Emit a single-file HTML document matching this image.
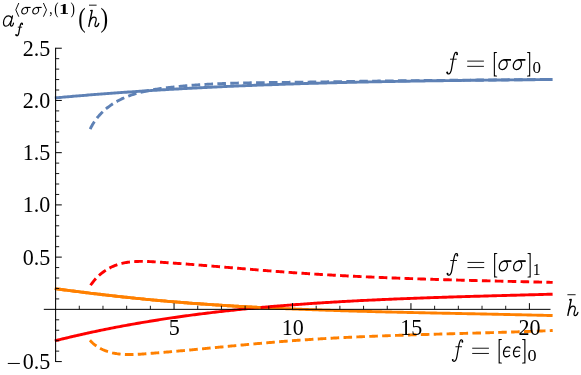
<!DOCTYPE html>
<html><head><meta charset="utf-8"><title>plot</title>
<style>
html,body{margin:0;padding:0;background:#fff;}
svg{display:block;}
text{font-family:"Liberation Serif",serif;fill:#000;}
</style></head>
<body>
<svg width="581" height="375" viewBox="0 0 581 375">
<rect width="581" height="375" fill="#fff"/>
<g style="filter:opacity(1)">
<path d="M54.80,97.93 L56.46,97.78 L58.13,97.63 L59.79,97.48 L61.46,97.33 L63.12,97.18 L64.79,97.03 L66.45,96.89 L68.12,96.74 L69.78,96.60 L71.45,96.45 L73.11,96.31 L74.78,96.17 L76.44,96.03 L78.11,95.89 L79.77,95.75 L81.44,95.61 L83.10,95.47 L84.77,95.34 L86.43,95.20 L88.10,95.07 L89.76,94.93 L91.43,94.80 L93.09,94.67 L94.76,94.53 L96.42,94.40 L98.09,94.27 L99.75,94.14 L101.42,94.02 L103.08,93.89 L104.75,93.76 L106.41,93.63 L108.08,93.51 L109.74,93.39 L111.41,93.26 L113.07,93.14 L114.74,93.02 L116.40,92.90 L118.07,92.78 L119.73,92.66 L121.40,92.54 L123.06,92.42 L124.73,92.30 L126.39,92.19 L128.05,92.07 L129.72,91.95 L131.38,91.84 L133.05,91.73 L134.71,91.61 L136.38,91.50 L138.04,91.39 L139.71,91.28 L141.37,91.17 L143.04,91.06 L144.70,90.95 L146.37,90.85 L148.03,90.74 L149.70,90.63 L151.36,90.53 L153.03,90.42 L154.69,90.32 L156.36,90.22 L158.02,90.11 L159.69,90.01 L161.35,89.91 L163.02,89.81 L164.68,89.71 L166.35,89.61 L168.01,89.52 L169.68,89.42 L171.34,89.32 L173.01,89.22 L174.67,89.13 L176.34,89.03 L178.00,88.94 L179.67,88.85 L181.33,88.75 L183.00,88.66 L184.66,88.57 L186.33,88.48 L187.99,88.39 L189.66,88.30 L191.32,88.21 L192.99,88.13 L194.65,88.04 L196.32,87.95 L197.98,87.87 L199.64,87.78 L201.31,87.69 L202.97,87.61 L204.64,87.53 L206.30,87.44 L207.97,87.36 L209.63,87.28 L211.30,87.20 L212.96,87.12 L214.63,87.04 L216.29,86.96 L217.96,86.88 L219.62,86.80 L221.29,86.73 L222.95,86.65 L224.62,86.57 L226.28,86.50 L227.95,86.42 L229.61,86.35 L231.28,86.28 L232.94,86.20 L234.61,86.13 L236.27,86.06 L237.94,85.99 L239.60,85.92 L241.27,85.85 L242.93,85.78 L244.60,85.71 L246.26,85.64 L247.93,85.57 L249.59,85.50 L251.26,85.44 L252.92,85.37 L254.59,85.30 L256.25,85.24 L257.92,85.17 L259.58,85.11 L261.25,85.05 L262.91,84.98 L264.58,84.92 L266.24,84.86 L267.91,84.80 L269.57,84.74 L271.23,84.68 L272.90,84.62 L274.56,84.56 L276.23,84.50 L277.89,84.44 L279.56,84.38 L281.22,84.32 L282.89,84.27 L284.55,84.21 L286.22,84.15 L287.88,84.10 L289.55,84.04 L291.21,83.99 L292.88,83.94 L294.54,83.88 L296.21,83.83 L297.87,83.78 L299.54,83.72 L301.20,83.67 L302.87,83.62 L304.53,83.57 L306.20,83.52 L307.86,83.47 L309.53,83.42 L311.19,83.37 L312.86,83.32 L314.52,83.28 L316.19,83.23 L317.85,83.18 L319.52,83.13 L321.18,83.09 L322.85,83.04 L324.51,83.00 L326.18,82.95 L327.84,82.91 L329.51,82.86 L331.17,82.82 L332.84,82.78 L334.50,82.73 L336.17,82.69 L337.83,82.65 L339.49,82.61 L341.16,82.57 L342.82,82.52 L344.49,82.48 L346.15,82.44 L347.82,82.40 L349.48,82.36 L351.15,82.33 L352.81,82.29 L354.48,82.25 L356.14,82.21 L357.81,82.17 L359.47,82.14 L361.14,82.10 L362.80,82.06 L364.47,82.03 L366.13,81.99 L367.80,81.96 L369.46,81.92 L371.13,81.89 L372.79,81.85 L374.46,81.82 L376.12,81.78 L377.79,81.75 L379.45,81.72 L381.12,81.68 L382.78,81.65 L384.45,81.62 L386.11,81.59 L387.78,81.56 L389.44,81.53 L391.11,81.50 L392.77,81.46 L394.44,81.43 L396.10,81.40 L397.77,81.38 L399.43,81.35 L401.10,81.32 L402.76,81.29 L404.43,81.26 L406.09,81.23 L407.76,81.20 L409.42,81.18 L411.08,81.15 L412.75,81.12 L414.41,81.09 L416.08,81.07 L417.74,81.04 L419.41,81.02 L421.07,80.99 L422.74,80.96 L424.40,80.94 L426.07,80.91 L427.73,80.89 L429.40,80.86 L431.06,80.84 L432.73,80.82 L434.39,80.79 L436.06,80.77 L437.72,80.75 L439.39,80.72 L441.05,80.70 L442.72,80.68 L444.38,80.65 L446.05,80.63 L447.71,80.61 L449.38,80.59 L451.04,80.57 L452.71,80.54 L454.37,80.52 L456.04,80.50 L457.70,80.48 L459.37,80.46 L461.03,80.44 L462.70,80.42 L464.36,80.40 L466.03,80.38 L467.69,80.36 L469.36,80.34 L471.02,80.32 L472.69,80.30 L474.35,80.28 L476.02,80.26 L477.68,80.24 L479.35,80.23 L481.01,80.21 L482.67,80.19 L484.34,80.17 L486.00,80.15 L487.67,80.13 L489.33,80.12 L491.00,80.10 L492.66,80.08 L494.33,80.06 L495.99,80.05 L497.66,80.03 L499.32,80.01 L500.99,80.00 L502.65,79.98 L504.32,79.96 L505.98,79.95 L507.65,79.93 L509.31,79.91 L510.98,79.90 L512.64,79.88 L514.31,79.86 L515.97,79.85 L517.64,79.83 L519.30,79.82 L520.97,79.80 L522.63,79.78 L524.30,79.77 L525.96,79.75 L527.63,79.74 L529.29,79.72 L530.96,79.71 L532.62,79.69 L534.29,79.68 L535.95,79.66 L537.62,79.65 L539.28,79.63 L540.95,79.62 L542.61,79.60 L544.28,79.59 L545.94,79.57 L547.61,79.56 L549.27,79.54 L550.94,79.53 L552.60,79.51" fill="none" stroke="#5e81b5" stroke-width="2.9"/>
<path d="M90.18,129.08 L90.75,127.93 L91.33,126.80 L91.94,125.69 L92.56,124.60 L93.21,123.53 L93.87,122.48 L94.55,121.45 L95.25,120.44 L95.97,119.44 L96.71,118.47 L97.46,117.52 L98.23,116.58 L99.02,115.66 L99.82,114.77 L100.64,113.89 L101.47,113.03 L102.32,112.18 L103.18,111.36 L104.06,110.55 L104.95,109.76 L105.85,108.99 L106.77,108.24 L107.69,107.50 L108.63,106.78 L109.58,106.08 L110.54,105.39 L111.52,104.72 L112.50,104.07 L113.49,103.44 L114.49,102.82 L115.50,102.21 L116.52,101.63 L117.55,101.06 L118.58,100.50 L119.62,99.96 L120.67,99.44 L121.73,98.93 L122.79,98.43 L123.86,97.95 L124.94,97.49 L126.02,97.04 L127.11,96.60 L128.20,96.18 L129.30,95.76 L130.41,95.37 L131.52,94.98 L132.63,94.61 L133.75,94.25 L134.88,93.90 L136.01,93.56 L137.15,93.23 L138.29,92.91 L139.43,92.61 L140.58,92.31 L141.73,92.02 L142.89,91.75 L144.05,91.48 L145.21,91.22 L146.38,90.97 L147.55,90.73 L148.72,90.50 L149.90,90.27 L151.07,90.05 L152.26,89.84 L153.44,89.64 L154.62,89.44 L155.81,89.25 L157.00,89.07 L158.19,88.89 L159.38,88.71 L160.58,88.55 L161.77,88.38 L162.97,88.23 L164.16,88.07 L165.36,87.92 L166.56,87.77 L167.76,87.63 L168.96,87.49 L170.16,87.36 L171.36,87.22 L172.55,87.09 L173.75,86.96 L174.95,86.84 L176.15,86.71 L177.35,86.59 L178.55,86.47 L179.74,86.36 L180.94,86.24 L182.14,86.13 L183.34,86.02 L184.54,85.91 L185.74,85.81 L186.93,85.71 L188.13,85.61 L189.33,85.51 L190.53,85.41 L191.72,85.32 L192.92,85.23 L194.12,85.14 L195.32,85.05 L196.51,84.97 L197.71,84.89 L198.91,84.81 L200.11,84.73 L201.30,84.65 L202.50,84.57 L203.70,84.50 L204.89,84.43 L206.09,84.36 L207.29,84.29 L208.49,84.23 L209.68,84.16 L210.88,84.10 L212.08,84.04 L213.27,83.98 L214.47,83.92 L215.67,83.87 L216.86,83.81 L218.06,83.76 L219.26,83.71 L220.45,83.66 L221.65,83.61 L222.84,83.56 L224.04,83.52 L225.24,83.47 L226.43,83.43 L227.63,83.39 L228.82,83.35 L230.02,83.31 L231.22,83.27 L232.41,83.23 L233.61,83.20 L234.80,83.16 L236.00,83.13 L237.20,83.10 L238.39,83.07 L239.59,83.04 L240.78,83.01 L241.98,82.98 L243.17,82.95 L244.37,82.92 L245.56,82.90 L246.76,82.87 L247.96,82.85 L249.15,82.83 L250.35,82.81 L251.54,82.78 L252.74,82.76 L253.93,82.74 L255.13,82.72 L256.32,82.70 L257.52,82.69 L258.71,82.67 L259.91,82.65 L261.10,82.64 L262.30,82.62 L263.49,82.60 L264.69,82.59 L265.88,82.57 L267.08,82.56 L268.27,82.54 L269.46,82.53 L270.66,82.52 L271.85,82.50 L273.05,82.49 L274.24,82.48 L275.44,82.46 L276.63,82.45 L277.83,82.44 L279.02,82.43 L280.22,82.41 L281.41,82.40 L282.60,82.39 L283.80,82.38 L284.99,82.37 L286.19,82.35 L287.38,82.34 L288.58,82.33 L289.77,82.31 L290.96,82.30 L292.16,82.29 L293.35,82.27 L294.55,82.26 L295.74,82.25 L296.93,82.23 L298.13,82.22 L299.32,82.20 L300.52,82.19 L301.71,82.17 L302.90,82.16 L304.10,82.14 L305.29,82.13 L306.49,82.11 L307.68,82.10 L308.87,82.08 L310.07,82.06 L311.26,82.05 L312.46,82.03 L313.65,82.02 L314.84,82.00 L316.04,81.98 L317.23,81.97 L318.42,81.95 L319.62,81.93 L320.81,81.91 L322.01,81.90 L323.20,81.88 L324.39,81.86 L325.59,81.84 L326.78,81.83 L327.97,81.81 L329.17,81.79 L330.36,81.77 L331.55,81.76 L332.75,81.74 L333.94,81.72 L335.14,81.70 L336.33,81.68 L337.52,81.67 L338.72,81.65 L339.91,81.63 L341.10,81.61 L342.30,81.59 L343.49,81.58 L344.68,81.56 L345.88,81.54 L347.07,81.52 L348.26,81.50 L349.46,81.48 L350.65,81.47 L351.85,81.45 L353.04,81.43 L354.23,81.41 L355.43,81.39 L356.62,81.38 L357.81,81.36 L359.01,81.34 L360.20,81.32 L361.39,81.30 L362.59,81.29 L363.78,81.27 L364.97,81.25 L366.17,81.23 L367.36,81.21 L368.55,81.20 L369.75,81.18 L370.94,81.16 L372.13,81.15 L373.33,81.13 L374.52,81.11 L375.72,81.09 L376.91,81.08 L378.10,81.06 L379.30,81.04 L380.49,81.03 L381.68,81.01 L382.88,80.99 L384.07,80.98 L385.26,80.96 L386.46,80.95 L387.65,80.93 L388.84,80.92 L390.04,80.90 L391.23,80.89 L392.43,80.87 L393.62,80.86 L394.81,80.84 L396.01,80.83 L397.20,80.81 L398.39,80.80 L399.59,80.78 L400.78,80.77 L401.98,80.76 L403.17,80.74 L404.36,80.73 L405.56,80.72 L406.75,80.70 L407.94,80.69 L409.14,80.68 L410.33,80.66 L411.53,80.65 L412.72,80.64 L413.91,80.63 L415.11,80.61 L416.30,80.60 L417.50,80.59 L418.69,80.58 L419.88,80.56 L421.08,80.55 L422.27,80.54 L423.47,80.53 L424.66,80.52 L425.85,80.51 L427.05,80.50 L428.24,80.48 L429.44,80.47 L430.63,80.46 L431.83,80.45 L433.02,80.44 L434.21,80.43 L435.41,80.42 L436.60,80.41 L437.80,80.40 L438.99,80.39 L440.19,80.38 L441.38,80.37 L442.58,80.36 L443.77,80.35 L444.96,80.34 L446.16,80.33 L447.35,80.32 L448.55,80.31 L449.74,80.30 L450.94,80.29 L452.13,80.28 L453.33,80.27 L454.52,80.26 L455.72,80.25 L456.91,80.24 L458.11,80.23 L459.30,80.22 L460.50,80.21 L461.69,80.20 L462.89,80.19 L464.08,80.18 L465.28,80.17 L466.47,80.16 L467.67,80.15 L468.86,80.14 L470.06,80.13 L471.25,80.12 L472.45,80.11 L473.64,80.10 L474.84,80.09 L476.04,80.08 L477.23,80.07 L478.43,80.07 L479.62,80.06 L480.82,80.05 L482.01,80.04 L483.21,80.03 L484.41,80.02 L485.60,80.01 L486.80,80.00 L487.99,79.99 L489.19,79.98 L490.39,79.97 L491.58,79.96 L492.78,79.95 L493.97,79.94 L495.17,79.93 L496.37,79.92 L497.56,79.91 L498.76,79.90 L499.96,79.89 L501.15,79.88 L502.35,79.87 L503.55,79.86 L504.74,79.85 L505.94,79.84 L507.14,79.83 L508.33,79.82 L509.53,79.81 L510.73,79.80 L511.92,79.79 L513.12,79.78 L514.32,79.77 L515.51,79.76 L516.71,79.75 L517.91,79.74 L519.11,79.73 L520.30,79.71 L521.50,79.70 L522.70,79.69 L523.90,79.68 L525.09,79.67 L526.29,79.66 L527.49,79.65 L528.69,79.63 L529.88,79.62 L531.08,79.61 L532.28,79.60 L533.48,79.59 L534.68,79.57 L535.87,79.56 L537.07,79.55 L538.27,79.54 L539.47,79.52 L540.67,79.51 L541.87,79.50 L543.06,79.48 L544.26,79.47 L545.46,79.46 L546.66,79.44 L547.86,79.43 L549.06,79.42 L550.26,79.40 L551.46,79.39 L552.66,79.37" fill="none" stroke="#5e81b5" stroke-width="2.9" stroke-dasharray="8.6 4.3"/>
<path d="M54.80,288.63 L56.46,288.85 L58.13,289.07 L59.79,289.29 L61.46,289.51 L63.12,289.73 L64.79,289.95 L66.45,290.17 L68.12,290.39 L69.78,290.60 L71.45,290.82 L73.11,291.03 L74.78,291.24 L76.44,291.46 L78.11,291.67 L79.77,291.88 L81.44,292.09 L83.10,292.29 L84.77,292.50 L86.43,292.71 L88.10,292.91 L89.76,293.12 L91.43,293.32 L93.09,293.52 L94.76,293.72 L96.42,293.92 L98.09,294.12 L99.75,294.31 L101.42,294.51 L103.08,294.71 L104.75,294.90 L106.41,295.09 L108.08,295.28 L109.74,295.47 L111.41,295.66 L113.07,295.85 L114.74,296.04 L116.40,296.22 L118.07,296.40 L119.73,296.59 L121.40,296.77 L123.06,296.95 L124.73,297.13 L126.39,297.31 L128.05,297.48 L129.72,297.66 L131.38,297.83 L133.05,298.00 L134.71,298.18 L136.38,298.35 L138.04,298.51 L139.71,298.68 L141.37,298.85 L143.04,299.01 L144.70,299.18 L146.37,299.34 L148.03,299.50 L149.70,299.66 L151.36,299.82 L153.03,299.97 L154.69,300.13 L156.36,300.28 L158.02,300.44 L159.69,300.59 L161.35,300.74 L163.02,300.88 L164.68,301.03 L166.35,301.18 L168.01,301.32 L169.68,301.46 L171.34,301.61 L173.01,301.75 L174.67,301.89 L176.34,302.02 L178.00,302.16 L179.67,302.29 L181.33,302.43 L183.00,302.56 L184.66,302.69 L186.33,302.82 L187.99,302.95 L189.66,303.08 L191.32,303.20 L192.99,303.33 L194.65,303.45 L196.32,303.57 L197.98,303.70 L199.64,303.82 L201.31,303.94 L202.97,304.05 L204.64,304.17 L206.30,304.29 L207.97,304.40 L209.63,304.51 L211.30,304.63 L212.96,304.74 L214.63,304.85 L216.29,304.96 L217.96,305.06 L219.62,305.17 L221.29,305.28 L222.95,305.38 L224.62,305.48 L226.28,305.59 L227.95,305.69 L229.61,305.79 L231.28,305.89 L232.94,305.99 L234.61,306.08 L236.27,306.18 L237.94,306.28 L239.60,306.37 L241.27,306.47 L242.93,306.56 L244.60,306.65 L246.26,306.74 L247.93,306.83 L249.59,306.92 L251.26,307.01 L252.92,307.10 L254.59,307.18 L256.25,307.27 L257.92,307.35 L259.58,307.44 L261.25,307.52 L262.91,307.60 L264.58,307.69 L266.24,307.77 L267.91,307.85 L269.57,307.93 L271.23,308.00 L272.90,308.08 L274.56,308.16 L276.23,308.24 L277.89,308.31 L279.56,308.39 L281.22,308.46 L282.89,308.53 L284.55,308.61 L286.22,308.68 L287.88,308.75 L289.55,308.82 L291.21,308.89 L292.88,308.96 L294.54,309.03 L296.21,309.09 L297.87,309.16 L299.54,309.23 L301.20,309.29 L302.87,309.36 L304.53,309.42 L306.20,309.49 L307.86,309.55 L309.53,309.61 L311.19,309.67 L312.86,309.73 L314.52,309.80 L316.19,309.86 L317.85,309.91 L319.52,309.97 L321.18,310.03 L322.85,310.09 L324.51,310.15 L326.18,310.20 L327.84,310.26 L329.51,310.31 L331.17,310.37 L332.84,310.42 L334.50,310.48 L336.17,310.53 L337.83,310.58 L339.49,310.64 L341.16,310.69 L342.82,310.74 L344.49,310.79 L346.15,310.84 L347.82,310.89 L349.48,310.94 L351.15,310.99 L352.81,311.04 L354.48,311.09 L356.14,311.13 L357.81,311.18 L359.47,311.23 L361.14,311.28 L362.80,311.32 L364.47,311.37 L366.13,311.41 L367.80,311.46 L369.46,311.50 L371.13,311.55 L372.79,311.59 L374.46,311.63 L376.12,311.68 L377.79,311.72 L379.45,311.76 L381.12,311.80 L382.78,311.84 L384.45,311.89 L386.11,311.93 L387.78,311.97 L389.44,312.01 L391.11,312.05 L392.77,312.09 L394.44,312.13 L396.10,312.17 L397.77,312.20 L399.43,312.24 L401.10,312.28 L402.76,312.32 L404.43,312.36 L406.09,312.40 L407.76,312.43 L409.42,312.47 L411.08,312.51 L412.75,312.54 L414.41,312.58 L416.08,312.62 L417.74,312.65 L419.41,312.69 L421.07,312.73 L422.74,312.76 L424.40,312.80 L426.07,312.83 L427.73,312.87 L429.40,312.90 L431.06,312.94 L432.73,312.97 L434.39,313.01 L436.06,313.04 L437.72,313.08 L439.39,313.11 L441.05,313.14 L442.72,313.18 L444.38,313.21 L446.05,313.25 L447.71,313.28 L449.38,313.32 L451.04,313.35 L452.71,313.38 L454.37,313.42 L456.04,313.45 L457.70,313.48 L459.37,313.52 L461.03,313.55 L462.70,313.58 L464.36,313.62 L466.03,313.65 L467.69,313.69 L469.36,313.72 L471.02,313.75 L472.69,313.79 L474.35,313.82 L476.02,313.85 L477.68,313.89 L479.35,313.92 L481.01,313.96 L482.67,313.99 L484.34,314.02 L486.00,314.06 L487.67,314.09 L489.33,314.13 L491.00,314.16 L492.66,314.20 L494.33,314.23 L495.99,314.27 L497.66,314.30 L499.32,314.34 L500.99,314.37 L502.65,314.41 L504.32,314.44 L505.98,314.48 L507.65,314.51 L509.31,314.55 L510.98,314.59 L512.64,314.62 L514.31,314.66 L515.97,314.70 L517.64,314.73 L519.30,314.77 L520.97,314.81 L522.63,314.85 L524.30,314.88 L525.96,314.92 L527.63,314.96 L529.29,315.00 L530.96,315.04 L532.62,315.08 L534.29,315.12 L535.95,315.16 L537.62,315.20 L539.28,315.24 L540.95,315.28 L542.61,315.32 L544.28,315.36 L545.94,315.40 L547.61,315.44 L549.27,315.49 L550.94,315.53 L552.60,315.57" fill="none" stroke="#ff8000" stroke-width="2.9"/>
<path d="M89.96,340.34 L90.84,341.25 L91.73,342.13 L92.64,342.97 L93.56,343.77 L94.50,344.54 L95.45,345.27 L96.42,345.97 L97.40,346.64 L98.39,347.27 L99.40,347.87 L100.42,348.43 L101.45,348.97 L102.49,349.48 L103.54,349.95 L104.60,350.40 L105.67,350.82 L106.75,351.22 L107.84,351.59 L108.94,351.93 L110.04,352.24 L111.15,352.54 L112.27,352.81 L113.39,353.05 L114.52,353.28 L115.66,353.48 L116.79,353.67 L117.93,353.83 L119.08,353.97 L120.23,354.10 L121.38,354.21 L122.53,354.30 L123.68,354.38 L124.84,354.44 L125.99,354.49 L127.15,354.52 L128.31,354.54 L129.47,354.55 L130.64,354.54 L131.80,354.53 L132.97,354.50 L134.13,354.47 L135.30,354.42 L136.47,354.37 L137.64,354.31 L138.81,354.25 L139.98,354.18 L141.15,354.10 L142.32,354.02 L143.49,353.94 L144.66,353.85 L145.83,353.76 L147.00,353.67 L148.17,353.58 L149.34,353.49 L150.51,353.40 L151.69,353.31 L152.86,353.22 L154.03,353.12 L155.20,353.03 L156.37,352.93 L157.54,352.84 L158.71,352.74 L159.88,352.64 L161.05,352.55 L162.22,352.45 L163.39,352.35 L164.56,352.25 L165.73,352.15 L166.90,352.05 L168.07,351.95 L169.24,351.85 L170.41,351.75 L171.58,351.64 L172.75,351.54 L173.92,351.44 L175.09,351.33 L176.26,351.23 L177.43,351.12 L178.60,351.02 L179.77,350.91 L180.94,350.81 L182.11,350.70 L183.28,350.59 L184.45,350.49 L185.62,350.38 L186.79,350.27 L187.96,350.16 L189.13,350.06 L190.30,349.95 L191.46,349.84 L192.63,349.73 L193.80,349.62 L194.97,349.51 L196.14,349.40 L197.31,349.29 L198.48,349.18 L199.65,349.07 L200.82,348.96 L201.99,348.84 L203.15,348.73 L204.32,348.62 L205.49,348.51 L206.66,348.40 L207.83,348.29 L209.00,348.17 L210.17,348.06 L211.33,347.95 L212.50,347.84 L213.67,347.73 L214.84,347.61 L216.01,347.50 L217.18,347.39 L218.34,347.28 L219.51,347.17 L220.68,347.05 L221.85,346.94 L223.02,346.83 L224.18,346.72 L225.35,346.60 L226.52,346.49 L227.69,346.38 L228.86,346.27 L230.02,346.16 L231.19,346.05 L232.36,345.93 L233.53,345.82 L234.69,345.71 L235.86,345.60 L237.03,345.49 L238.20,345.38 L239.37,345.27 L240.53,345.16 L241.70,345.05 L242.87,344.94 L244.04,344.83 L245.20,344.72 L246.37,344.61 L247.54,344.51 L248.71,344.40 L249.87,344.29 L251.04,344.18 L252.21,344.08 L253.37,343.97 L254.54,343.86 L255.71,343.76 L256.88,343.65 L258.04,343.55 L259.21,343.44 L260.38,343.34 L261.55,343.24 L262.71,343.13 L263.88,343.03 L265.05,342.93 L266.21,342.83 L267.38,342.73 L268.55,342.62 L269.72,342.52 L270.88,342.43 L272.05,342.33 L273.22,342.23 L274.38,342.13 L275.55,342.03 L276.72,341.94 L277.88,341.84 L279.05,341.75 L280.22,341.65 L281.38,341.56 L282.55,341.46 L283.72,341.37 L284.89,341.28 L286.05,341.19 L287.22,341.10 L288.39,341.01 L289.55,340.92 L290.72,340.83 L291.89,340.74 L293.05,340.66 L294.22,340.57 L295.39,340.49 L296.55,340.40 L297.72,340.32 L298.89,340.24 L300.05,340.15 L301.22,340.07 L302.39,339.99 L303.55,339.91 L304.72,339.83 L305.89,339.75 L307.05,339.68 L308.22,339.60 L309.39,339.52 L310.55,339.45 L311.72,339.37 L312.89,339.30 L314.05,339.22 L315.22,339.15 L316.39,339.08 L317.55,339.01 L318.72,338.94 L319.89,338.87 L321.05,338.80 L322.22,338.73 L323.39,338.66 L324.55,338.59 L325.72,338.52 L326.89,338.46 L328.06,338.39 L329.22,338.33 L330.39,338.26 L331.56,338.20 L332.72,338.13 L333.89,338.07 L335.06,338.01 L336.22,337.95 L337.39,337.88 L338.56,337.82 L339.72,337.76 L340.89,337.70 L342.06,337.64 L343.22,337.59 L344.39,337.53 L345.56,337.47 L346.72,337.41 L347.89,337.36 L349.06,337.30 L350.23,337.25 L351.39,337.19 L352.56,337.14 L353.73,337.08 L354.89,337.03 L356.06,336.98 L357.23,336.92 L358.39,336.87 L359.56,336.82 L360.73,336.77 L361.90,336.72 L363.06,336.67 L364.23,336.62 L365.40,336.57 L366.56,336.52 L367.73,336.47 L368.90,336.42 L370.07,336.37 L371.23,336.33 L372.40,336.28 L373.57,336.23 L374.73,336.19 L375.90,336.14 L377.07,336.10 L378.24,336.05 L379.40,336.01 L380.57,335.96 L381.74,335.92 L382.91,335.87 L384.07,335.83 L385.24,335.79 L386.41,335.75 L387.58,335.70 L388.74,335.66 L389.91,335.62 L391.08,335.58 L392.25,335.54 L393.41,335.50 L394.58,335.46 L395.75,335.42 L396.92,335.38 L398.09,335.34 L399.25,335.30 L400.42,335.26 L401.59,335.22 L402.76,335.18 L403.93,335.14 L405.09,335.11 L406.26,335.07 L407.43,335.03 L408.60,334.99 L409.77,334.96 L410.93,334.92 L412.10,334.88 L413.27,334.85 L414.44,334.81 L415.61,334.78 L416.78,334.74 L417.94,334.71 L419.11,334.67 L420.28,334.63 L421.45,334.60 L422.62,334.57 L423.79,334.53 L424.96,334.50 L426.12,334.46 L427.29,334.43 L428.46,334.39 L429.63,334.36 L430.80,334.33 L431.97,334.29 L433.14,334.26 L434.31,334.23 L435.48,334.19 L436.65,334.16 L437.81,334.13 L438.98,334.09 L440.15,334.06 L441.32,334.03 L442.49,334.00 L443.66,333.96 L444.83,333.93 L446.00,333.90 L447.17,333.87 L448.34,333.83 L449.51,333.80 L450.68,333.77 L451.85,333.74 L453.02,333.70 L454.19,333.67 L455.36,333.64 L456.53,333.61 L457.70,333.58 L458.87,333.54 L460.04,333.51 L461.21,333.48 L462.38,333.45 L463.55,333.42 L464.72,333.38 L465.89,333.35 L467.06,333.32 L468.23,333.29 L469.40,333.25 L470.57,333.22 L471.74,333.19 L472.91,333.16 L474.08,333.12 L475.26,333.09 L476.43,333.06 L477.60,333.03 L478.77,332.99 L479.94,332.96 L481.11,332.93 L482.28,332.89 L483.45,332.86 L484.62,332.83 L485.80,332.79 L486.97,332.76 L488.14,332.73 L489.31,332.69 L490.48,332.66 L491.65,332.63 L492.83,332.59 L494.00,332.56 L495.17,332.52 L496.34,332.49 L497.51,332.45 L498.69,332.42 L499.86,332.38 L501.03,332.35 L502.20,332.31 L503.38,332.27 L504.55,332.24 L505.72,332.20 L506.89,332.17 L508.07,332.13 L509.24,332.09 L510.41,332.06 L511.58,332.02 L512.76,331.98 L513.93,331.94 L515.10,331.90 L516.28,331.87 L517.45,331.83 L518.62,331.79 L519.80,331.75 L520.97,331.71 L522.14,331.67 L523.32,331.63 L524.49,331.59 L525.67,331.55 L526.84,331.51 L528.01,331.47 L529.19,331.42 L530.36,331.38 L531.54,331.34 L532.71,331.30 L533.89,331.25 L535.06,331.21 L536.24,331.17 L537.41,331.12 L538.58,331.08 L539.76,331.03 L540.93,330.99 L542.11,330.94 L543.28,330.90 L544.46,330.85 L545.63,330.80 L546.81,330.76 L547.99,330.71 L549.16,330.66 L550.34,330.61 L551.51,330.57 L552.69,330.52" fill="none" stroke="#ff8000" stroke-width="2.9" stroke-dasharray="8.6 4.3"/>
<path d="M54.80,340.84 L56.46,340.42 L58.13,340.01 L59.79,339.59 L61.46,339.18 L63.12,338.78 L64.79,338.37 L66.45,337.97 L68.12,337.57 L69.78,337.18 L71.45,336.78 L73.11,336.39 L74.78,336.01 L76.44,335.62 L78.11,335.24 L79.77,334.86 L81.44,334.48 L83.10,334.11 L84.77,333.74 L86.43,333.37 L88.10,333.01 L89.76,332.64 L91.43,332.28 L93.09,331.93 L94.76,331.57 L96.42,331.22 L98.09,330.87 L99.75,330.52 L101.42,330.18 L103.08,329.84 L104.75,329.50 L106.41,329.16 L108.08,328.83 L109.74,328.50 L111.41,328.17 L113.07,327.84 L114.74,327.52 L116.40,327.20 L118.07,326.88 L119.73,326.56 L121.40,326.25 L123.06,325.94 L124.73,325.63 L126.39,325.32 L128.05,325.02 L129.72,324.72 L131.38,324.42 L133.05,324.12 L134.71,323.83 L136.38,323.54 L138.04,323.25 L139.71,322.96 L141.37,322.67 L143.04,322.39 L144.70,322.11 L146.37,321.83 L148.03,321.56 L149.70,321.28 L151.36,321.01 L153.03,320.74 L154.69,320.48 L156.36,320.21 L158.02,319.95 L159.69,319.69 L161.35,319.43 L163.02,319.17 L164.68,318.92 L166.35,318.67 L168.01,318.42 L169.68,318.17 L171.34,317.93 L173.01,317.68 L174.67,317.44 L176.34,317.20 L178.00,316.97 L179.67,316.73 L181.33,316.50 L183.00,316.27 L184.66,316.04 L186.33,315.81 L187.99,315.58 L189.66,315.36 L191.32,315.14 L192.99,314.92 L194.65,314.70 L196.32,314.49 L197.98,314.27 L199.64,314.06 L201.31,313.85 L202.97,313.64 L204.64,313.44 L206.30,313.23 L207.97,313.03 L209.63,312.83 L211.30,312.63 L212.96,312.43 L214.63,312.24 L216.29,312.05 L217.96,311.85 L219.62,311.66 L221.29,311.48 L222.95,311.29 L224.62,311.10 L226.28,310.92 L227.95,310.74 L229.61,310.56 L231.28,310.38 L232.94,310.20 L234.61,310.03 L236.27,309.85 L237.94,309.68 L239.60,309.51 L241.27,309.34 L242.93,309.18 L244.60,309.01 L246.26,308.85 L247.93,308.68 L249.59,308.52 L251.26,308.36 L252.92,308.20 L254.59,308.05 L256.25,307.89 L257.92,307.74 L259.58,307.59 L261.25,307.44 L262.91,307.29 L264.58,307.14 L266.24,306.99 L267.91,306.85 L269.57,306.70 L271.23,306.56 L272.90,306.42 L274.56,306.28 L276.23,306.14 L277.89,306.00 L279.56,305.87 L281.22,305.73 L282.89,305.60 L284.55,305.46 L286.22,305.33 L287.88,305.20 L289.55,305.08 L291.21,304.95 L292.88,304.82 L294.54,304.70 L296.21,304.57 L297.87,304.45 L299.54,304.33 L301.20,304.21 L302.87,304.09 L304.53,303.97 L306.20,303.85 L307.86,303.74 L309.53,303.62 L311.19,303.51 L312.86,303.40 L314.52,303.29 L316.19,303.18 L317.85,303.07 L319.52,302.96 L321.18,302.85 L322.85,302.74 L324.51,302.64 L326.18,302.54 L327.84,302.43 L329.51,302.33 L331.17,302.23 L332.84,302.13 L334.50,302.03 L336.17,301.93 L337.83,301.84 L339.49,301.74 L341.16,301.64 L342.82,301.55 L344.49,301.46 L346.15,301.37 L347.82,301.27 L349.48,301.18 L351.15,301.09 L352.81,301.00 L354.48,300.92 L356.14,300.83 L357.81,300.74 L359.47,300.66 L361.14,300.57 L362.80,300.49 L364.47,300.41 L366.13,300.33 L367.80,300.24 L369.46,300.16 L371.13,300.08 L372.79,300.01 L374.46,299.93 L376.12,299.85 L377.79,299.77 L379.45,299.70 L381.12,299.62 L382.78,299.55 L384.45,299.48 L386.11,299.40 L387.78,299.33 L389.44,299.26 L391.11,299.19 L392.77,299.12 L394.44,299.05 L396.10,298.98 L397.77,298.91 L399.43,298.84 L401.10,298.78 L402.76,298.71 L404.43,298.65 L406.09,298.58 L407.76,298.52 L409.42,298.45 L411.08,298.39 L412.75,298.33 L414.41,298.26 L416.08,298.20 L417.74,298.14 L419.41,298.08 L421.07,298.02 L422.74,297.96 L424.40,297.90 L426.07,297.84 L427.73,297.79 L429.40,297.73 L431.06,297.67 L432.73,297.62 L434.39,297.56 L436.06,297.50 L437.72,297.45 L439.39,297.39 L441.05,297.34 L442.72,297.29 L444.38,297.23 L446.05,297.18 L447.71,297.13 L449.38,297.07 L451.04,297.02 L452.71,296.97 L454.37,296.92 L456.04,296.87 L457.70,296.82 L459.37,296.77 L461.03,296.72 L462.70,296.67 L464.36,296.62 L466.03,296.57 L467.69,296.52 L469.36,296.47 L471.02,296.42 L472.69,296.37 L474.35,296.32 L476.02,296.28 L477.68,296.23 L479.35,296.18 L481.01,296.14 L482.67,296.09 L484.34,296.04 L486.00,296.00 L487.67,295.95 L489.33,295.90 L491.00,295.86 L492.66,295.81 L494.33,295.77 L495.99,295.72 L497.66,295.67 L499.32,295.63 L500.99,295.58 L502.65,295.54 L504.32,295.49 L505.98,295.45 L507.65,295.40 L509.31,295.36 L510.98,295.31 L512.64,295.27 L514.31,295.22 L515.97,295.18 L517.64,295.13 L519.30,295.09 L520.97,295.04 L522.63,295.00 L524.30,294.95 L525.96,294.91 L527.63,294.87 L529.29,294.82 L530.96,294.77 L532.62,294.73 L534.29,294.68 L535.95,294.64 L537.62,294.59 L539.28,294.55 L540.95,294.50 L542.61,294.46 L544.28,294.41 L545.94,294.37 L547.61,294.32 L549.27,294.27 L550.94,294.23 L552.60,294.18" fill="none" stroke="#ff0000" stroke-width="2.9"/>
<path d="M90.56,285.29 L91.26,284.28 L91.98,283.28 L92.73,282.30 L93.49,281.35 L94.27,280.41 L95.06,279.50 L95.88,278.60 L96.71,277.73 L97.56,276.88 L98.43,276.05 L99.31,275.24 L100.21,274.45 L101.13,273.69 L102.05,272.95 L103.00,272.23 L103.95,271.53 L104.92,270.86 L105.91,270.21 L106.90,269.58 L107.91,268.98 L108.93,268.40 L109.96,267.84 L111.00,267.31 L112.05,266.81 L113.11,266.32 L114.18,265.87 L115.26,265.44 L116.34,265.03 L117.44,264.65 L118.54,264.29 L119.65,263.96 L120.77,263.66 L121.89,263.37 L123.02,263.11 L124.15,262.88 L125.29,262.66 L126.44,262.46 L127.59,262.28 L128.74,262.12 L129.90,261.98 L131.06,261.86 L132.23,261.75 L133.40,261.66 L134.57,261.58 L135.74,261.52 L136.92,261.47 L138.09,261.43 L139.27,261.41 L140.45,261.39 L141.63,261.39 L142.81,261.39 L143.99,261.41 L145.17,261.43 L146.35,261.46 L147.53,261.50 L148.71,261.54 L149.89,261.59 L151.07,261.64 L152.25,261.70 L153.43,261.76 L154.60,261.83 L155.78,261.90 L156.96,261.97 L158.14,262.05 L159.32,262.12 L160.50,262.20 L161.68,262.28 L162.86,262.36 L164.04,262.44 L165.22,262.52 L166.40,262.60 L167.57,262.68 L168.75,262.76 L169.93,262.84 L171.11,262.93 L172.29,263.01 L173.47,263.10 L174.65,263.18 L175.83,263.27 L177.00,263.35 L178.18,263.44 L179.36,263.53 L180.54,263.61 L181.72,263.70 L182.90,263.79 L184.07,263.88 L185.25,263.97 L186.43,264.06 L187.61,264.15 L188.79,264.24 L189.96,264.33 L191.14,264.43 L192.32,264.52 L193.50,264.61 L194.68,264.70 L195.85,264.80 L197.03,264.89 L198.21,264.98 L199.39,265.08 L200.57,265.17 L201.74,265.27 L202.92,265.36 L204.10,265.46 L205.28,265.56 L206.45,265.65 L207.63,265.75 L208.81,265.84 L209.99,265.94 L211.16,266.04 L212.34,266.14 L213.52,266.23 L214.70,266.33 L215.87,266.43 L217.05,266.53 L218.23,266.63 L219.40,266.72 L220.58,266.82 L221.76,266.92 L222.94,267.02 L224.11,267.12 L225.29,267.22 L226.47,267.32 L227.64,267.41 L228.82,267.51 L230.00,267.61 L231.17,267.71 L232.35,267.81 L233.53,267.91 L234.71,268.01 L235.88,268.11 L237.06,268.21 L238.24,268.30 L239.41,268.40 L240.59,268.50 L241.77,268.60 L242.94,268.70 L244.12,268.80 L245.30,268.90 L246.47,268.99 L247.65,269.09 L248.83,269.19 L250.00,269.29 L251.18,269.38 L252.35,269.48 L253.53,269.58 L254.71,269.68 L255.88,269.77 L257.06,269.87 L258.24,269.96 L259.41,270.06 L260.59,270.16 L261.77,270.25 L262.94,270.35 L264.12,270.44 L265.30,270.54 L266.47,270.63 L267.65,270.72 L268.82,270.82 L270.00,270.91 L271.18,271.00 L272.35,271.09 L273.53,271.19 L274.70,271.28 L275.88,271.37 L277.06,271.46 L278.23,271.55 L279.41,271.64 L280.59,271.73 L281.76,271.82 L282.94,271.91 L284.11,271.99 L285.29,272.08 L286.47,272.17 L287.64,272.25 L288.82,272.34 L289.99,272.42 L291.17,272.51 L292.35,272.59 L293.52,272.68 L294.70,272.76 L295.87,272.84 L297.05,272.92 L298.23,273.00 L299.40,273.08 L300.58,273.16 L301.75,273.24 L302.93,273.32 L304.11,273.40 L305.28,273.48 L306.46,273.55 L307.63,273.63 L308.81,273.71 L309.99,273.78 L311.16,273.86 L312.34,273.93 L313.51,274.01 L314.69,274.08 L315.86,274.15 L317.04,274.23 L318.22,274.30 L319.39,274.37 L320.57,274.44 L321.74,274.51 L322.92,274.58 L324.10,274.65 L325.27,274.72 L326.45,274.79 L327.62,274.86 L328.80,274.92 L329.98,274.99 L331.15,275.06 L332.33,275.12 L333.50,275.19 L334.68,275.25 L335.86,275.32 L337.03,275.38 L338.21,275.45 L339.38,275.51 L340.56,275.57 L341.73,275.64 L342.91,275.70 L344.09,275.76 L345.26,275.82 L346.44,275.88 L347.61,275.94 L348.79,276.00 L349.97,276.06 L351.14,276.12 L352.32,276.18 L353.49,276.24 L354.67,276.29 L355.85,276.35 L357.02,276.41 L358.20,276.46 L359.37,276.52 L360.55,276.58 L361.73,276.63 L362.90,276.69 L364.08,276.74 L365.26,276.80 L366.43,276.85 L367.61,276.90 L368.78,276.95 L369.96,277.01 L371.14,277.06 L372.31,277.11 L373.49,277.16 L374.66,277.21 L375.84,277.26 L377.02,277.31 L378.19,277.36 L379.37,277.41 L380.55,277.46 L381.72,277.51 L382.90,277.56 L384.08,277.61 L385.25,277.66 L386.43,277.70 L387.60,277.75 L388.78,277.80 L389.96,277.85 L391.13,277.89 L392.31,277.94 L393.49,277.98 L394.66,278.03 L395.84,278.07 L397.02,278.12 L398.19,278.16 L399.37,278.21 L400.55,278.25 L401.72,278.29 L402.90,278.34 L404.08,278.38 L405.25,278.42 L406.43,278.46 L407.61,278.51 L408.78,278.55 L409.96,278.59 L411.14,278.63 L412.31,278.67 L413.49,278.71 L414.67,278.75 L415.85,278.79 L417.02,278.83 L418.20,278.87 L419.38,278.91 L420.55,278.95 L421.73,278.99 L422.91,279.03 L424.09,279.06 L425.26,279.10 L426.44,279.14 L427.62,279.18 L428.79,279.21 L429.97,279.25 L431.15,279.29 L432.33,279.32 L433.50,279.36 L434.68,279.40 L435.86,279.43 L437.04,279.47 L438.21,279.50 L439.39,279.54 L440.57,279.57 L441.75,279.61 L442.92,279.64 L444.10,279.68 L445.28,279.71 L446.46,279.75 L447.64,279.78 L448.81,279.82 L449.99,279.85 L451.17,279.88 L452.35,279.92 L453.53,279.95 L454.70,279.98 L455.88,280.01 L457.06,280.05 L458.24,280.08 L459.42,280.11 L460.59,280.14 L461.77,280.18 L462.95,280.21 L464.13,280.24 L465.31,280.27 L466.49,280.30 L467.67,280.33 L468.84,280.36 L470.02,280.39 L471.20,280.43 L472.38,280.46 L473.56,280.49 L474.74,280.52 L475.92,280.55 L477.10,280.58 L478.27,280.61 L479.45,280.64 L480.63,280.67 L481.81,280.70 L482.99,280.73 L484.17,280.76 L485.35,280.79 L486.53,280.82 L487.71,280.84 L488.89,280.87 L490.07,280.90 L491.25,280.93 L492.43,280.96 L493.60,280.99 L494.78,281.02 L495.96,281.05 L497.14,281.08 L498.32,281.11 L499.50,281.13 L500.68,281.16 L501.86,281.19 L503.04,281.22 L504.22,281.25 L505.40,281.28 L506.58,281.30 L507.76,281.33 L508.94,281.36 L510.12,281.39 L511.30,281.42 L512.48,281.45 L513.66,281.47 L514.85,281.50 L516.03,281.53 L517.21,281.56 L518.39,281.59 L519.57,281.61 L520.75,281.64 L521.93,281.67 L523.11,281.70 L524.29,281.73 L525.47,281.76 L526.65,281.78 L527.83,281.81 L529.02,281.84 L530.20,281.87 L531.38,281.90 L532.56,281.92 L533.74,281.95 L534.92,281.98 L536.10,282.01 L537.29,282.04 L538.47,282.07 L539.65,282.09 L540.83,282.12 L542.01,282.15 L543.20,282.18 L544.38,282.21 L545.56,282.24 L546.74,282.27 L547.92,282.29 L549.11,282.32 L550.29,282.35 L551.47,282.38 L552.65,282.41" fill="none" stroke="#ff0000" stroke-width="2.9" stroke-dasharray="8.6 4.3"/>
<clipPath id="cl"><rect x="0" y="280" width="260.6" height="40"/></clipPath>
<path clip-path="url(#cl)" d="M54.80,288.63 L56.46,288.85 L58.13,289.07 L59.79,289.29 L61.46,289.51 L63.12,289.73 L64.79,289.95 L66.45,290.17 L68.12,290.39 L69.78,290.60 L71.45,290.82 L73.11,291.03 L74.78,291.24 L76.44,291.46 L78.11,291.67 L79.77,291.88 L81.44,292.09 L83.10,292.29 L84.77,292.50 L86.43,292.71 L88.10,292.91 L89.76,293.12 L91.43,293.32 L93.09,293.52 L94.76,293.72 L96.42,293.92 L98.09,294.12 L99.75,294.31 L101.42,294.51 L103.08,294.71 L104.75,294.90 L106.41,295.09 L108.08,295.28 L109.74,295.47 L111.41,295.66 L113.07,295.85 L114.74,296.04 L116.40,296.22 L118.07,296.40 L119.73,296.59 L121.40,296.77 L123.06,296.95 L124.73,297.13 L126.39,297.31 L128.05,297.48 L129.72,297.66 L131.38,297.83 L133.05,298.00 L134.71,298.18 L136.38,298.35 L138.04,298.51 L139.71,298.68 L141.37,298.85 L143.04,299.01 L144.70,299.18 L146.37,299.34 L148.03,299.50 L149.70,299.66 L151.36,299.82 L153.03,299.97 L154.69,300.13 L156.36,300.28 L158.02,300.44 L159.69,300.59 L161.35,300.74 L163.02,300.88 L164.68,301.03 L166.35,301.18 L168.01,301.32 L169.68,301.46 L171.34,301.61 L173.01,301.75 L174.67,301.89 L176.34,302.02 L178.00,302.16 L179.67,302.29 L181.33,302.43 L183.00,302.56 L184.66,302.69 L186.33,302.82 L187.99,302.95 L189.66,303.08 L191.32,303.20 L192.99,303.33 L194.65,303.45 L196.32,303.57 L197.98,303.70 L199.64,303.82 L201.31,303.94 L202.97,304.05 L204.64,304.17 L206.30,304.29 L207.97,304.40 L209.63,304.51 L211.30,304.63 L212.96,304.74 L214.63,304.85 L216.29,304.96 L217.96,305.06 L219.62,305.17 L221.29,305.28 L222.95,305.38 L224.62,305.48 L226.28,305.59 L227.95,305.69 L229.61,305.79 L231.28,305.89 L232.94,305.99 L234.61,306.08 L236.27,306.18 L237.94,306.28 L239.60,306.37 L241.27,306.47 L242.93,306.56 L244.60,306.65 L246.26,306.74 L247.93,306.83 L249.59,306.92 L251.26,307.01 L252.92,307.10 L254.59,307.18 L256.25,307.27 L257.92,307.35 L259.58,307.44 L261.25,307.52 L262.91,307.60 L264.58,307.69 L266.24,307.77 L267.91,307.85 L269.57,307.93 L271.23,308.00 L272.90,308.08 L274.56,308.16 L276.23,308.24 L277.89,308.31 L279.56,308.39 L281.22,308.46 L282.89,308.53 L284.55,308.61 L286.22,308.68 L287.88,308.75 L289.55,308.82 L291.21,308.89 L292.88,308.96 L294.54,309.03 L296.21,309.09 L297.87,309.16 L299.54,309.23 L301.20,309.29 L302.87,309.36 L304.53,309.42 L306.20,309.49 L307.86,309.55 L309.53,309.61 L311.19,309.67 L312.86,309.73 L314.52,309.80 L316.19,309.86 L317.85,309.91 L319.52,309.97 L321.18,310.03 L322.85,310.09 L324.51,310.15 L326.18,310.20 L327.84,310.26 L329.51,310.31 L331.17,310.37 L332.84,310.42 L334.50,310.48 L336.17,310.53 L337.83,310.58 L339.49,310.64 L341.16,310.69 L342.82,310.74 L344.49,310.79 L346.15,310.84 L347.82,310.89 L349.48,310.94 L351.15,310.99 L352.81,311.04 L354.48,311.09 L356.14,311.13 L357.81,311.18 L359.47,311.23 L361.14,311.28 L362.80,311.32 L364.47,311.37 L366.13,311.41 L367.80,311.46 L369.46,311.50 L371.13,311.55 L372.79,311.59 L374.46,311.63 L376.12,311.68 L377.79,311.72 L379.45,311.76 L381.12,311.80 L382.78,311.84 L384.45,311.89 L386.11,311.93 L387.78,311.97 L389.44,312.01 L391.11,312.05 L392.77,312.09 L394.44,312.13 L396.10,312.17 L397.77,312.20 L399.43,312.24 L401.10,312.28 L402.76,312.32 L404.43,312.36 L406.09,312.40 L407.76,312.43 L409.42,312.47 L411.08,312.51 L412.75,312.54 L414.41,312.58 L416.08,312.62 L417.74,312.65 L419.41,312.69 L421.07,312.73 L422.74,312.76 L424.40,312.80 L426.07,312.83 L427.73,312.87 L429.40,312.90 L431.06,312.94 L432.73,312.97 L434.39,313.01 L436.06,313.04 L437.72,313.08 L439.39,313.11 L441.05,313.14 L442.72,313.18 L444.38,313.21 L446.05,313.25 L447.71,313.28 L449.38,313.32 L451.04,313.35 L452.71,313.38 L454.37,313.42 L456.04,313.45 L457.70,313.48 L459.37,313.52 L461.03,313.55 L462.70,313.58 L464.36,313.62 L466.03,313.65 L467.69,313.69 L469.36,313.72 L471.02,313.75 L472.69,313.79 L474.35,313.82 L476.02,313.85 L477.68,313.89 L479.35,313.92 L481.01,313.96 L482.67,313.99 L484.34,314.02 L486.00,314.06 L487.67,314.09 L489.33,314.13 L491.00,314.16 L492.66,314.20 L494.33,314.23 L495.99,314.27 L497.66,314.30 L499.32,314.34 L500.99,314.37 L502.65,314.41 L504.32,314.44 L505.98,314.48 L507.65,314.51 L509.31,314.55 L510.98,314.59 L512.64,314.62 L514.31,314.66 L515.97,314.70 L517.64,314.73 L519.30,314.77 L520.97,314.81 L522.63,314.85 L524.30,314.88 L525.96,314.92 L527.63,314.96 L529.29,315.00 L530.96,315.04 L532.62,315.08 L534.29,315.12 L535.95,315.16 L537.62,315.20 L539.28,315.24 L540.95,315.28 L542.61,315.32 L544.28,315.36 L545.94,315.40 L547.61,315.44 L549.27,315.49 L550.94,315.53 L552.60,315.57" fill="none" stroke="#ff8000" stroke-width="2.9"/>
<line x1="43.8" y1="309.35" x2="550.5" y2="309.35" stroke="#000" stroke-width="1"/>
<line x1="55.60" y1="47.73" x2="55.60" y2="362.08" stroke="#000" stroke-width="1.05"/>
<line x1="79.29" y1="309.35" x2="79.29" y2="305.75" stroke="#000" stroke-width="0.9"/>
<line x1="102.98" y1="309.35" x2="102.98" y2="305.75" stroke="#000" stroke-width="0.9"/>
<line x1="126.67" y1="309.35" x2="126.67" y2="305.75" stroke="#000" stroke-width="0.9"/>
<line x1="150.36" y1="309.35" x2="150.36" y2="305.75" stroke="#000" stroke-width="0.9"/>
<line x1="174.05" y1="309.35" x2="174.05" y2="303.15" stroke="#000" stroke-width="1"/>
<line x1="197.74" y1="309.35" x2="197.74" y2="305.75" stroke="#000" stroke-width="0.9"/>
<line x1="221.43" y1="309.35" x2="221.43" y2="305.75" stroke="#000" stroke-width="0.9"/>
<line x1="245.12" y1="309.35" x2="245.12" y2="305.75" stroke="#000" stroke-width="0.9"/>
<line x1="268.81" y1="309.35" x2="268.81" y2="305.75" stroke="#000" stroke-width="0.9"/>
<line x1="292.50" y1="309.35" x2="292.50" y2="303.15" stroke="#000" stroke-width="1"/>
<line x1="316.19" y1="309.35" x2="316.19" y2="305.75" stroke="#000" stroke-width="0.9"/>
<line x1="339.88" y1="309.35" x2="339.88" y2="305.75" stroke="#000" stroke-width="0.9"/>
<line x1="363.57" y1="309.35" x2="363.57" y2="305.75" stroke="#000" stroke-width="0.9"/>
<line x1="387.26" y1="309.35" x2="387.26" y2="305.75" stroke="#000" stroke-width="0.9"/>
<line x1="410.95" y1="309.35" x2="410.95" y2="303.15" stroke="#000" stroke-width="1"/>
<line x1="434.64" y1="309.35" x2="434.64" y2="305.75" stroke="#000" stroke-width="0.9"/>
<line x1="458.33" y1="309.35" x2="458.33" y2="305.75" stroke="#000" stroke-width="0.9"/>
<line x1="482.02" y1="309.35" x2="482.02" y2="305.75" stroke="#000" stroke-width="0.9"/>
<line x1="505.71" y1="309.35" x2="505.71" y2="305.75" stroke="#000" stroke-width="0.9"/>
<line x1="529.40" y1="309.35" x2="529.40" y2="303.15" stroke="#000" stroke-width="1"/>
<line x1="55.60" y1="361.58" x2="61.80" y2="361.58" stroke="#000" stroke-width="1"/>
<line x1="55.60" y1="351.13" x2="59.20" y2="351.13" stroke="#000" stroke-width="0.9"/>
<line x1="55.60" y1="340.69" x2="59.20" y2="340.69" stroke="#000" stroke-width="0.9"/>
<line x1="55.60" y1="330.24" x2="59.20" y2="330.24" stroke="#000" stroke-width="0.9"/>
<line x1="55.60" y1="319.80" x2="59.20" y2="319.80" stroke="#000" stroke-width="0.9"/>
<line x1="55.60" y1="298.91" x2="59.20" y2="298.91" stroke="#000" stroke-width="0.9"/>
<line x1="55.60" y1="288.46" x2="59.20" y2="288.46" stroke="#000" stroke-width="0.9"/>
<line x1="55.60" y1="278.02" x2="59.20" y2="278.02" stroke="#000" stroke-width="0.9"/>
<line x1="55.60" y1="267.57" x2="59.20" y2="267.57" stroke="#000" stroke-width="0.9"/>
<line x1="55.60" y1="257.12" x2="61.80" y2="257.12" stroke="#000" stroke-width="1"/>
<line x1="55.60" y1="246.68" x2="59.20" y2="246.68" stroke="#000" stroke-width="0.9"/>
<line x1="55.60" y1="236.24" x2="59.20" y2="236.24" stroke="#000" stroke-width="0.9"/>
<line x1="55.60" y1="225.79" x2="59.20" y2="225.79" stroke="#000" stroke-width="0.9"/>
<line x1="55.60" y1="215.35" x2="59.20" y2="215.35" stroke="#000" stroke-width="0.9"/>
<line x1="55.60" y1="204.90" x2="61.80" y2="204.90" stroke="#000" stroke-width="1"/>
<line x1="55.60" y1="194.46" x2="59.20" y2="194.46" stroke="#000" stroke-width="0.9"/>
<line x1="55.60" y1="184.01" x2="59.20" y2="184.01" stroke="#000" stroke-width="0.9"/>
<line x1="55.60" y1="173.57" x2="59.20" y2="173.57" stroke="#000" stroke-width="0.9"/>
<line x1="55.60" y1="163.12" x2="59.20" y2="163.12" stroke="#000" stroke-width="0.9"/>
<line x1="55.60" y1="152.68" x2="61.80" y2="152.68" stroke="#000" stroke-width="1"/>
<line x1="55.60" y1="142.23" x2="59.20" y2="142.23" stroke="#000" stroke-width="0.9"/>
<line x1="55.60" y1="131.79" x2="59.20" y2="131.79" stroke="#000" stroke-width="0.9"/>
<line x1="55.60" y1="121.34" x2="59.20" y2="121.34" stroke="#000" stroke-width="0.9"/>
<line x1="55.60" y1="110.90" x2="59.20" y2="110.90" stroke="#000" stroke-width="0.9"/>
<line x1="55.60" y1="100.45" x2="61.80" y2="100.45" stroke="#000" stroke-width="1"/>
<line x1="55.60" y1="90.00" x2="59.20" y2="90.00" stroke="#000" stroke-width="0.9"/>
<line x1="55.60" y1="79.56" x2="59.20" y2="79.56" stroke="#000" stroke-width="0.9"/>
<line x1="55.60" y1="69.12" x2="59.20" y2="69.12" stroke="#000" stroke-width="0.9"/>
<line x1="55.60" y1="58.67" x2="59.20" y2="58.67" stroke="#000" stroke-width="0.9"/>
<line x1="55.60" y1="48.23" x2="61.80" y2="48.23" stroke="#000" stroke-width="1"/>
<text transform="translate(50.30,55.63) scale(0.2205,0.2340)" font-size="100" text-anchor="end">2.5</text>
<text transform="translate(50.30,107.85) scale(0.2205,0.2340)" font-size="100" text-anchor="end">2.0</text>
<text transform="translate(50.30,160.08) scale(0.2205,0.2340)" font-size="100" text-anchor="end">1.5</text>
<text transform="translate(50.30,212.30) scale(0.2205,0.2340)" font-size="100" text-anchor="end">1.0</text>
<text transform="translate(50.30,264.52) scale(0.2205,0.2340)" font-size="100" text-anchor="end">0.5</text>
<text transform="translate(50.30,368.98) scale(0.2205,0.2340)" font-size="100" text-anchor="end">0.5</text>
<text transform="translate(6.50,370.27) scale(0.2600,0.2008)" font-size="100"  fill="#000">−</text>
<text transform="translate(174.25,334.70) scale(0.2205,0.2340)" font-size="100" text-anchor="middle">5</text>
<text transform="translate(292.70,334.70) scale(0.2205,0.2340)" font-size="100" text-anchor="middle">10</text>
<text transform="translate(411.15,334.70) scale(0.2205,0.2340)" font-size="100" text-anchor="middle">15</text>
<text transform="translate(529.60,334.70) scale(0.2205,0.2340)" font-size="100" text-anchor="middle">20</text>
<g transform="translate(445.90,70.10) scale(1.0000,1.0000)"><path d="M11.25,-16.3 C11.5,-17.5 10.6,-17.95 9.9,-17.8 C8.5,-17.5 7.95,-14.6 7.3,-10.9 L5.65,-1.2 C5.1,2.0 4.3,3.75 2.75,3.75 C1.7,3.75 1.1,3.2 1.2,2.5" fill="none" stroke="#000" stroke-width="1.25" stroke-linecap="round"/><circle cx="11.15" cy="-15.9" r="0.95"/><circle cx="1.35" cy="2.3" r="0.95"/><path d="M4.1,-10.9 L10.8,-10.9" stroke="#000" stroke-width="0.9" fill="none"/></g>
<rect x="467.20" y="60.65" width="16.7" height="0.9" fill="#000"/>
<rect x="467.20" y="65.85" width="16.7" height="0.9" fill="#000"/>
<text transform="translate(492.63,71.64) scale(0.1437,0.2888)" font-size="100"  fill="#000">[</text>
<g transform="translate(498.40,70.08) scale(1.0000,1.0027)"><path d="M12.6,-10.2 L5.6,-10.2 C2.7,-10.2 0.6,-6.9 0.6,-4.0 C0.6,-1.7 1.9,-0.5 3.8,-0.5 C6.6,-0.5 8.8,-3.4 8.8,-6.4 C8.8,-8.3 8.2,-9.5 6.9,-10.15" fill="none" stroke="#000" stroke-width="1.25" stroke-linejoin="round"/><path d="M5.0,-10.25 L12.6,-10.25" stroke="#000" stroke-width="1.4" fill="none"/></g>
<g transform="translate(512.70,70.08) scale(1.0000,1.0027)"><path d="M12.6,-10.2 L5.6,-10.2 C2.7,-10.2 0.6,-6.9 0.6,-4.0 C0.6,-1.7 1.9,-0.5 3.8,-0.5 C6.6,-0.5 8.8,-3.4 8.8,-6.4 C8.8,-8.3 8.2,-9.5 6.9,-10.15" fill="none" stroke="#000" stroke-width="1.25" stroke-linejoin="round"/><path d="M5.0,-10.25 L12.6,-10.25" stroke="#000" stroke-width="1.4" fill="none"/></g>
<text transform="translate(526.58,71.64) scale(0.1437,0.2888)" font-size="100"  fill="#000">]</text>
<text transform="translate(532.55,73.34) scale(0.1699,0.1630)" font-size="100"  fill="#000">0</text>
<g transform="translate(446.20,271.40) scale(1.0000,1.0000)"><path d="M11.25,-16.3 C11.5,-17.5 10.6,-17.95 9.9,-17.8 C8.5,-17.5 7.95,-14.6 7.3,-10.9 L5.65,-1.2 C5.1,2.0 4.3,3.75 2.75,3.75 C1.7,3.75 1.1,3.2 1.2,2.5" fill="none" stroke="#000" stroke-width="1.25" stroke-linecap="round"/><circle cx="11.15" cy="-15.9" r="0.95"/><circle cx="1.35" cy="2.3" r="0.95"/><path d="M4.1,-10.9 L10.8,-10.9" stroke="#000" stroke-width="0.9" fill="none"/></g>
<rect x="467.50" y="261.95" width="16.7" height="0.9" fill="#000"/>
<rect x="467.50" y="267.15" width="16.7" height="0.9" fill="#000"/>
<text transform="translate(492.93,272.94) scale(0.1437,0.2888)" font-size="100"  fill="#000">[</text>
<g transform="translate(498.70,271.38) scale(1.0000,1.0027)"><path d="M12.6,-10.2 L5.6,-10.2 C2.7,-10.2 0.6,-6.9 0.6,-4.0 C0.6,-1.7 1.9,-0.5 3.8,-0.5 C6.6,-0.5 8.8,-3.4 8.8,-6.4 C8.8,-8.3 8.2,-9.5 6.9,-10.15" fill="none" stroke="#000" stroke-width="1.25" stroke-linejoin="round"/><path d="M5.0,-10.25 L12.6,-10.25" stroke="#000" stroke-width="1.4" fill="none"/></g>
<g transform="translate(513.00,271.38) scale(1.0000,1.0027)"><path d="M12.6,-10.2 L5.6,-10.2 C2.7,-10.2 0.6,-6.9 0.6,-4.0 C0.6,-1.7 1.9,-0.5 3.8,-0.5 C6.6,-0.5 8.8,-3.4 8.8,-6.4 C8.8,-8.3 8.2,-9.5 6.9,-10.15" fill="none" stroke="#000" stroke-width="1.25" stroke-linejoin="round"/><path d="M5.0,-10.25 L12.6,-10.25" stroke="#000" stroke-width="1.4" fill="none"/></g>
<text transform="translate(526.88,272.94) scale(0.1437,0.2888)" font-size="100"  fill="#000">]</text>
<text transform="translate(532.83,274.60) scale(0.1562,0.1591)" font-size="100"  fill="#000">1</text>
<g transform="translate(451.40,357.54) scale(0.9846,0.9910)"><path d="M11.25,-16.3 C11.5,-17.5 10.6,-17.95 9.9,-17.8 C8.5,-17.5 7.95,-14.6 7.3,-10.9 L5.65,-1.2 C5.1,2.0 4.3,3.75 2.75,3.75 C1.7,3.75 1.1,3.2 1.2,2.5" fill="none" stroke="#000" stroke-width="1.25" stroke-linecap="round"/><circle cx="11.15" cy="-15.9" r="0.95"/><circle cx="1.35" cy="2.3" r="0.95"/><path d="M4.1,-10.9 L10.8,-10.9" stroke="#000" stroke-width="0.9" fill="none"/></g>
<rect x="472.2" y="347.75" width="16.7" height="0.9" fill="#000"/>
<rect x="472.2" y="352.95" width="16.7" height="0.9" fill="#000"/>
<text transform="translate(497.50,358.70) scale(0.1482,0.2839)" font-size="100"  fill="#000">[</text>
<g transform="translate(503.00,357.10) scale(1.0000,1.0000)"><path d="M7.0,-9.3 C6.4,-10.0 5.5,-10.15 4.7,-10.15 C2.3,-10.15 0.55,-7.0 0.55,-4.2 C0.55,-1.7 1.7,-0.35 3.5,-0.35 C4.7,-0.35 5.8,-0.8 6.6,-1.8" fill="none" stroke="#000" stroke-width="1.3" stroke-linecap="round"/><path d="M1.1,-5.8 L6.9,-5.8" stroke="#000" stroke-width="0.95" fill="none"/></g>
<g transform="translate(513.00,357.10) scale(1.0000,1.0000)"><path d="M7.0,-9.3 C6.4,-10.0 5.5,-10.15 4.7,-10.15 C2.3,-10.15 0.55,-7.0 0.55,-4.2 C0.55,-1.7 1.7,-0.35 3.5,-0.35 C4.7,-0.35 5.8,-0.8 6.6,-1.8" fill="none" stroke="#000" stroke-width="1.3" stroke-linecap="round"/><path d="M1.1,-5.8 L6.9,-5.8" stroke="#000" stroke-width="0.95" fill="none"/></g>
<text transform="translate(521.45,358.70) scale(0.1527,0.2839)" font-size="100"  fill="#000">]</text>
<text transform="translate(527.51,360.74) scale(0.1817,0.1600)" font-size="100"  fill="#000">0</text>
<g transform="translate(566.60,316.00) scale(1.0000,1.0000)"><path d="M2.6,-16.3 L4.6,-16.5 L1.15,-0.1" fill="none" stroke="#000" stroke-width="1.4" stroke-linejoin="round"/><path d="M2.5,-6.0 C3.4,-8.2 4.9,-9.8 6.4,-9.8 C8.2,-9.8 9.0,-8.6 8.6,-6.8 L7.5,-2.6 C7.2,-1.4 7.6,-0.45 8.6,-0.45 C9.8,-0.45 10.8,-1.8 11.3,-3.7" fill="none" stroke="#000" stroke-width="1.25" stroke-linecap="round"/></g>
<rect x="567.4" y="294.3" width="8.2" height="0.9" fill="#000"/>
<g transform="translate(2.80,26.80) scale(1.0000,1.0000)"><path d="M9.0,-8.6 C8.4,-10.3 7.0,-11.0 5.5,-11.0 C2.7,-11.0 0.7,-7.4 0.7,-4.3 C0.7,-2.0 1.6,-0.6 3.2,-0.6 C5.4,-0.6 7.2,-3.4 8.0,-5.4" fill="none" stroke="#000" stroke-width="1.2" stroke-linecap="round"/><path d="M9.7,-11.0 L7.85,-3.0 C7.4,-1.5 7.8,-0.6 8.7,-0.6 C9.7,-0.6 10.3,-1.8 10.7,-3.6" fill="none" stroke="#000" stroke-width="1.2" stroke-linecap="round"/></g>
<g transform="translate(15.20,33.50) scale(0.6385,0.5811)"><path d="M11.25,-16.3 C11.5,-17.5 10.6,-17.95 9.9,-17.8 C8.5,-17.5 7.95,-14.6 7.3,-10.9 L5.65,-1.2 C5.1,2.0 4.3,3.75 2.75,3.75 C1.7,3.75 1.1,3.2 1.2,2.5" fill="none" stroke="#000" stroke-width="1.938" stroke-linecap="round"/><circle cx="11.15" cy="-15.9" r="1.264"/><circle cx="1.35" cy="2.3" r="1.264"/><path d="M4.1,-10.9 L10.8,-10.9" stroke="#000" stroke-width="1.395" fill="none"/></g>
<polyline points="18.8,3.0 15.8,9.85 18.8,16.7" fill="none" stroke="#000" stroke-width="0.95"/>
<g transform="translate(21.30,14.22) scale(0.7222,0.6594)"><path d="M12.6,-10.2 L5.6,-10.2 C2.7,-10.2 0.6,-6.9 0.6,-4.0 C0.6,-1.7 1.9,-0.5 3.8,-0.5 C6.6,-0.5 8.8,-3.4 8.8,-6.4 C8.8,-8.3 8.2,-9.5 6.9,-10.15" fill="none" stroke="#000" stroke-width="1.562" stroke-linejoin="round"/><path d="M5.0,-10.25 L12.6,-10.25" stroke="#000" stroke-width="1.750" fill="none"/></g>
<g transform="translate(32.30,14.22) scale(0.7222,0.6594)"><path d="M12.6,-10.2 L5.6,-10.2 C2.7,-10.2 0.6,-6.9 0.6,-4.0 C0.6,-1.7 1.9,-0.5 3.8,-0.5 C6.6,-0.5 8.8,-3.4 8.8,-6.4 C8.8,-8.3 8.2,-9.5 6.9,-10.15" fill="none" stroke="#000" stroke-width="1.562" stroke-linejoin="round"/><path d="M5.0,-10.25 L12.6,-10.25" stroke="#000" stroke-width="1.750" fill="none"/></g>
<polyline points="43.4,3.0 46.5,9.85 43.4,16.7" fill="none" stroke="#000" stroke-width="0.95"/>
<text transform="translate(49.19,14.12) scale(0.1343,0.1674)" font-size="100"  fill="#000">,</text>
<text transform="translate(54.14,14.06) scale(0.1285,0.1709)" font-size="100"  fill="#000">(</text>
<text transform="translate(59.09,13.60) scale(0.2010,0.1378)" font-size="100" font-weight="bold" fill="#000">1</text>
<text transform="translate(70.57,14.06) scale(0.1324,0.1709)" font-size="100"  fill="#000">)</text>
<text transform="translate(78.32,27.04) scale(0.2219,0.2658)" font-size="100"  fill="#000">(</text>
<g transform="translate(87.60,27.00) scale(0.9915,1.0058)"><path d="M2.6,-16.3 L4.6,-16.5 L1.15,-0.1" fill="none" stroke="#000" stroke-width="1.4" stroke-linejoin="round"/><path d="M2.5,-6.0 C3.4,-8.2 4.9,-9.8 6.4,-9.8 C8.2,-9.8 9.0,-8.6 8.6,-6.8 L7.5,-2.6 C7.2,-1.4 7.6,-0.45 8.6,-0.45 C9.8,-0.45 10.8,-1.8 11.3,-3.7" fill="none" stroke="#000" stroke-width="1.25" stroke-linecap="round"/></g>
<rect x="89.0" y="4.7" width="7.6" height="0.9" fill="#000"/>
<text transform="translate(100.56,27.04) scale(0.2297,0.2658)" font-size="100"  fill="#000">)</text>
</g>
</svg>
</body></html>
